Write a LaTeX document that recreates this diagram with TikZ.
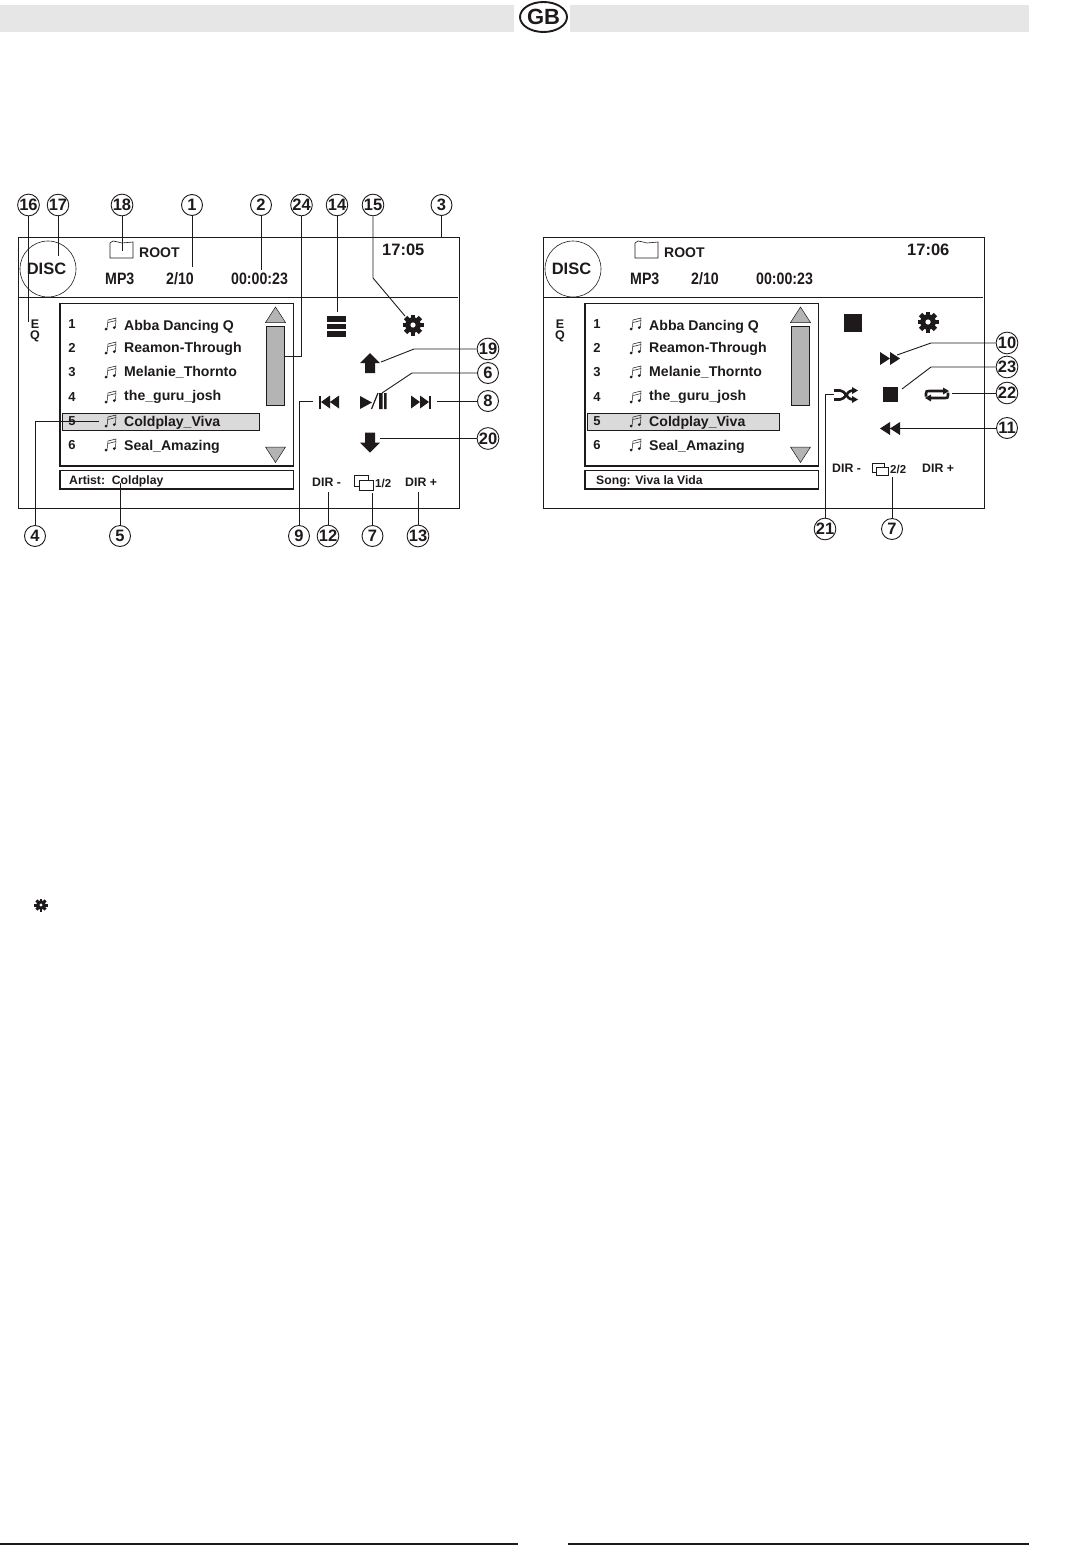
\documentclass[tikz,border=0pt]{standalone}
\usepackage{fontspec}
\setmainfont{Liberation Sans}
\newfontfamily\narrowfont[FakeStretch=0.86]{Liberation Sans}
\usetikzlibrary{shapes.geometric,arrows.meta}
\definecolor{bargray}{HTML}{E6E6E6}
\definecolor{hlgray}{HTML}{DADADA}
\definecolor{scrollgray}{HTML}{B4B4B4}
\definecolor{inkblack}{HTML}{1E1A1B}
\tikzset{
    gearicon/.pic={
        \fill[inkblack] (0,0) circle (7.8);
        \foreach \ang in {0,45,...,315}
            \fill[inkblack, rotate=\ang] (-2.4,6) rectangle (2.4,10.5);
        \fill[white] (0,0) circle (2.6);
    },
    noteicon/.pic={
        \draw[inkblack, line width=0.5pt] (-4,5) -- (-3,-4) -- (5,-6) -- (4.5,3.5);
        \draw[inkblack, line width=0.5pt] (-3,-1.5) -- (5,-3.5);
        \fill[inkblack] (-5,5) circle (1.5) (3.3,3.6) circle (1.5);
    },
    pagesicon/.pic={
        \draw[inkblack, line width=0.7pt] (0,11) -- (0,0) -- (14,0) -- (14,5);
        \draw[inkblack, line width=0.7pt] (0,11) -- (5,11);
        \draw[inkblack, line width=0.7pt, fill=white] (5,5) rectangle (19,15);
    },
    uparrow/.pic={
        \fill[inkblack] (0,-10) -- (10,0) -- (5,0) -- (5,10) -- (-5,10) -- (-5,0) -- (-10,0) -- cycle;
    },
    dblarrow/.pic={
        \fill[inkblack] (-10,-6.5) -- (0,0) -- (-10,6.5) -- cycle (0,-6.5) -- (10,0) -- (0,6.5) -- cycle;
    },
    endbar/.pic={
        \fill[inkblack] (-10,-6.5) -- (-1,0) -- (-10,6.5) -- cycle (-1,-6.5) -- (8,0) -- (-1,6.5) -- cycle;
        \fill[inkblack] (8,-6.5) rectangle (10,6.5);
    },
    shuffleicon/.pic={
        \draw[inkblack, line width=2.6pt] (-12,-4.5) -- (-6,-4.5) .. controls (0,-4.5) and (0,4.5) .. (7,4.5);
        \draw[inkblack, line width=2.6pt] (-12,4.5) -- (-6,4.5) .. controls (0,4.5) and (0,-4.5) .. (7,-4.5);
        \fill[inkblack] (6,-8) -- (12,-4.5) -- (6,-1) -- cycle (6,1) -- (12,4.5) -- (6,8) -- cycle;
    },
    repeaticon/.pic={
        \draw[inkblack, line width=2.6pt] (-11,2) -- (-11,-1) .. controls (-11,-3.5) and (-10,-3.5) .. (-8,-3.5) -- (7,-3.5);
        \draw[inkblack, line width=2.6pt] (11,-2) -- (11,1) .. controls (11,3.5) and (10,3.5) .. (8,3.5) -- (-7,3.5);
        \fill[inkblack] (6,-7) -- (12,-3.5) -- (6,0) -- cycle (-6,0) -- (-12,3.5) -- (-6,7) -- cycle;
    }
}
\begin{document}
\begin{tikzpicture}[x=1pt, y=-1pt, line cap=butt,
        every node/.style={font=\bfseries, text=inkblack},
        frameline/.style={draw=inkblack, line width=1pt},
        boxline/.style={draw=inkblack, line width=1.6pt},
        leader/.style={draw=inkblack, line width=0.9pt},
        callout/.style={circle, draw=inkblack, line width=0.9pt, fill=white, minimum size=21pt, inner sep=0pt, font=\bfseries\fontsize{16.5}{16.5}\selectfont},
        rowtext/.style={anchor=base west, inner sep=0pt, font=\bfseries\fontsize{14.1}{14}\selectfont},
        infotext/.style={anchor=base west, inner sep=0pt, font=\narrowfont\bfseries\fontsize{16.5}{17}\selectfont},
        dirtext/.style={anchor=base west, inner sep=0pt, font=\bfseries\fontsize{12.3}{12}\selectfont},
        bartri/.style={fill=scrollgray, draw=inkblack, line width=0.5pt}]
    \useasboundingbox (0,0) rectangle (1065,1558);
    % page furniture
    \fill[bargray] (0,5) rectangle (514,32);
    \fill[bargray] (570,5) rectangle (1029,32);
    \node[ellipse, draw=inkblack, line width=1.9pt, minimum width=47pt, minimum height=30pt, inner sep=0pt, font=\bfseries\fontsize{22}{22}\selectfont] (gb) at (543.5,17) {GB};
    \draw[inkblack, line width=1.2pt] (0,1544) -- (518,1544);
    \draw[inkblack, line width=1.2pt] (568,1544) -- (1029,1544);
    \pic[scale=0.62] (smallgear) at (41,905) {gearicon};
    % both screens share their layout
    \foreach \pnl/\ox/\clock/\hlend/\botx/\bottext in {a/0/17:05/259/69/{Artist:\ \ Coldplay}, b/525/17:06/254/71/{Song: Viva la Vida}} {
        \begin{scope}[shift={(\ox,0)}]
            \draw[frameline] (18,237) rectangle (459.5,508.5);
            \draw[frameline] (18,297.5) -- (458,297.5);
            \node[circle, draw=inkblack, line width=0.6pt, minimum size=56pt, inner sep=0pt, font=\bfseries\fontsize{16.5}{16}\selectfont] (disc-\pnl) at (48,269) {\hspace{-3pt}DISC};
            \draw[inkblack, line width=0.6pt] (110,258) -- (110,243) -- (113,241) -- (118,242) -- (122,243) -- (133,242) -- (133,258) -- cycle;
            \node[anchor=base west, inner sep=0pt, font=\bfseries\fontsize{14}{14}\selectfont] (root-\pnl) at (139,257) {ROOT};
            \node[infotext] (mp3-\pnl) at (105,284) {MP3};
            \node[infotext] (count-\pnl) at (166,284) {2/10};
            \node[infotext] (elapsed-\pnl) at (231,284) {00:00:23};
            \node[anchor=base west, inner sep=0pt, font=\bfseries\fontsize{16.5}{16}\selectfont] (clock-\pnl) at (382,255) {\clock};
            \node[inner sep=0pt, align=center, font=\bfseries\fontsize{12.5}{11.5}\selectfont] (eq-\pnl) at (35,331) {E\\[-0.5pt]Q};
            % song list
            \draw[boxline] (60,303.5) rectangle (293.5,466);
            \draw[boxline] (60,470.5) rectangle (293.5,489);
            \fill[hlgray] (62,413) rectangle (\hlend,430.5);
            \draw[inkblack, line width=0.8pt] (62,413) rectangle (\hlend,430.5);
            \foreach \num/\rowy/\txty/\song in {1/324/330/Abba Dancing Q, 2/348/352/Reamon-Through, 3/372/376/Melanie\_Thornto, 4/397/400/the\_guru\_josh, 5/421/426/Coldplay\_Viva, 6/445/450/Seal\_Amazing} {
                \node[inner sep=0pt, font=\bfseries\fontsize{13}{13}\selectfont] (num-\pnl-\num) at (72,\rowy) {\num};
                \pic (note-\pnl-\num) at (111,\rowy) {noteicon};
                \node[rowtext] (song-\pnl-\num) at (124,\txty) {\song};
            }
            \node[anchor=base west, inner sep=0pt, font=\bfseries\fontsize{12.2}{12}\selectfont] (bottom-\pnl) at (\botx,484.5) {\bottext};
            % scroll bar
            \filldraw[bartri] (275.5,307) -- (285.5,322.5) -- (265.5,322.5) -- cycle;
            \filldraw[bartri] (266.5,326) rectangle (284.5,405.5);
            \filldraw[bartri] (265.5,447) -- (285.5,447) -- (275.5,462.5) -- cycle;
        \end{scope}
    }
    % left screen icons
    \foreach \bary in {316,323.5,331}
        \fill[inkblack] (327,\bary) rectangle (346,\bary+5.5);
    \pic (gear-a) at (413,325) {gearicon};
    \pic (up-a) at (370,363) {uparrow};
    \pic[yscale=-1] (down-a) at (370,442.5) {uparrow};
    \pic[xscale=-1] (prev-a) at (329,402) {endbar};
    \pic (next-a) at (421,402) {endbar};
    \fill[inkblack] (360,396) -- (372,402.5) -- (360,409) -- cycle;
    \draw[inkblack, line width=1.2pt] (371.5,409) -- (378,393);
    \fill[inkblack] (379,393) rectangle (382.5,409) (384,393) rectangle (386.5,409);
    \node[dirtext] (dirminus-a) at (312,486) {DIR -};
    \pic (pages-a) at (354,475) {pagesicon};
    \node[anchor=base west, inner sep=0pt, font=\bfseries\fontsize{11.5}{11}\selectfont] (page-a) at (375,487) {1/2};
    \node[dirtext] (dirplus-a) at (405,486) {DIR +};
    % right screen icons
    \fill[inkblack] (844,314) rectangle (862,332);
    \pic (gear-b) at (928,322) {gearicon};
    \pic (ff-b) at (890,358.5) {dblarrow};
    \fill[inkblack] (883,387) rectangle (898,402);
    \pic (shuffle-b) at (846,395) {shuffleicon};
    \pic (repeat-b) at (937,394.5) {repeaticon};
    \pic[xscale=-1] (rew-b) at (890,428.5) {dblarrow};
    \node[dirtext] (dirminus-b) at (832,472) {DIR -};
    \pic[scale=0.85] (pages-b) at (872,463) {pagesicon};
    \node[anchor=base west, inner sep=0pt, font=\bfseries\fontsize{11.5}{11}\selectfont] (page-b) at (890,473) {2/2};
    \node[dirtext] (dirplus-b) at (922,472) {DIR +};
    % callouts
    \foreach \nme/\cx/\cy/\lbl in {c16/28.5/205/16, c17/58/205/17, c18/122/205/18, c1/192/205/1, c2/261/205/2, c24/301.5/205/24, c14/337/205/14, c15/373/205/15, c3/441.5/205/3, c19/488/349/19, c6/488/373/6, c8/488/401/8, c20/488/438.5/20, c4/35/536/4, c5/120/536/5, c9/299/536/9, c12/328/536/12, c7a/372.5/536/7, c13/418/536/13, c10/1007/343/10, c23/1007/367/23, c22/1007/393/22, c11/1007/428/11, c21/825/529/21, c7b/892/529/7}
        \node[callout] (\nme) at (\cx,\cy) {\lbl};
    % straight leaders
    \foreach \nme/\ex/\ey in {c16/28.5/322, c17/58/256, c18/122/251, c1/192/267, c2/261/270, c14/337/312, c3/441.5/238, c8/437/401, c20/380/438.5, c5/120/483, c12/328/492, c7a/372.5/493, c13/418/492, c22/952/393, c11/900/428, c7b/892/477} {
        \coordinate (\nme-end) at (\ex,\ey);
        \draw[leader] (\nme) -- (\nme-end);
    }
    % leaders with a bend
    \foreach \nme/\bx/\by/\ex/\ey in {c24/301.5/356/285/356, c15/373/278/405/316, c19/414/349/381/362, c6/412/373/382/393, c9/299/401/313/401, c4/35/421/99/421, c10/931/343/897/355, c23/931/367/902/389, c21/825/394/834/394} {
        \coordinate (\nme-bend) at (\bx,\by);
        \coordinate (\nme-end) at (\ex,\ey);
        \draw[leader] (\nme) -- (\nme-bend) -- (\nme-end);
    }
\end{tikzpicture}
\end{document}
